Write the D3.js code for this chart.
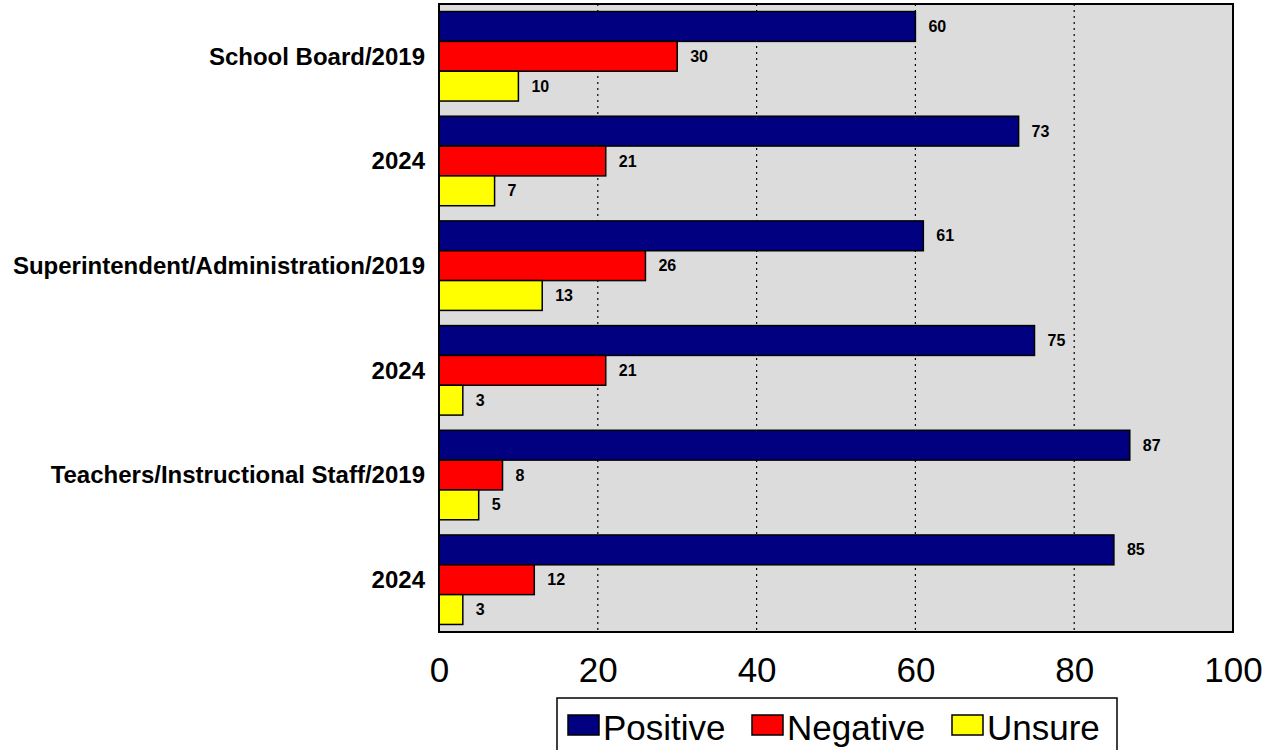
<!DOCTYPE html>
<html><head><meta charset="utf-8">
<script src="https://cdn.jsdelivr.net/npm/d3@7"></script>
<style>body{margin:0;background:#fff;}svg{display:block;}</style>
</head><body>
<svg id="c" width="1268" height="750"></svg>
<script>
const categories = ["School Board/2019","2024","Superintendent/Administration/2019","2024","Teachers/Instructional Staff/2019","2024"];
const seriesNames = ["Positive","Negative","Unsure"];
const positive = [60,73,61,75,87,85];
const negative = [30,21,26,21,8,12];
const unsure = [10,7,13,3,5,3];
const xTicks = [0,20,40,60,80,100];
const colors = ["#000080","#ff0000","#ffff00"];

const svg = d3.select("#c");
const L=439,R=1233,T=4,B=632;
const x = d3.scaleLinear().domain([0,100]).range([L,R]);
const y0 = d3.scaleBand().domain(d3.range(categories.length)).range([T,B]).paddingInner(0.145).paddingOuter(0.072);
const y1 = d3.scaleBand().domain(seriesNames).range([0,y0.bandwidth()]);
const data = categories.map((c,i)=>({c,i,vals:[positive[i],negative[i],unsure[i]]}));

svg.append("rect").attr("x",L).attr("y",T).attr("width",R-L).attr("height",B-T).attr("fill","#dcdcdc");
svg.append("g").selectAll("line").data(xTicks.filter(d=>d>0&&d<100)).join("line")
  .attr("x1",d=>x(d)).attr("x2",d=>x(d)).attr("y1",T).attr("y2",B)
  .attr("stroke","#000").attr("stroke-width",1.2).attr("stroke-dasharray","2,4");

const g = svg.append("g").selectAll("g").data(data).join("g").attr("transform",d=>`translate(0,${y0(d.i)})`);
g.selectAll("rect").data(d=>d.vals.map((v,k)=>({v,k}))).join("rect")
  .attr("x",x(0)).attr("y",d=>y1(seriesNames[d.k])).attr("width",d=>x(d.v)-x(0)).attr("height",y1.bandwidth())
  .attr("fill",d=>colors[d.k]).attr("stroke","#000").attr("stroke-width",1.5);
g.selectAll("text").data(d=>d.vals.map((v,k)=>({v,k}))).join("text")
  .attr("x",d=>x(d.v)+13).attr("y",d=>y1(seriesNames[d.k])+y1.bandwidth()/2).attr("dy","0.35em")
  .attr("font-family","'Liberation Sans Narrow','Arial Narrow','Liberation Sans',Arial,sans-serif").attr("font-weight","bold").attr("font-size",16)
  .text(d=>d.v);

svg.append("g").selectAll("text").data(data).join("text")
  .attr("x",425).attr("y",d=>y0(d.i)+y0.bandwidth()/2).attr("dy","0.35em").attr("text-anchor","end")
  .attr("font-family","'Liberation Sans',Arial,sans-serif").attr("font-weight","bold").attr("font-size",24)
  .text(d=>d.c);

svg.append("rect").attr("x",L).attr("y",T).attr("width",R-L).attr("height",B-T).attr("fill","none").attr("stroke","#000").attr("stroke-width",2);

const ax = svg.append("g").attr("transform",`translate(0,${B})`)
  .call(d3.axisBottom(x).tickValues(xTicks).tickSize(0).tickPadding(25).tickFormat(d3.format("d")));
ax.select(".domain").remove();
ax.selectAll("text").attr("font-family","'Liberation Sans',Arial,sans-serif").attr("font-size",35).attr("fill","#000");

// legend
const lg = svg.append("g");
lg.append("rect").attr("x",557).attr("y",698).attr("width",560).attr("height",60).attr("fill","#fff").attr("stroke","#000").attr("stroke-width",1.5);
const lx=[568,752,952];
seriesNames.forEach((s,k)=>{
  lg.append("rect").attr("x",lx[k]).attr("y",715).attr("width",31).attr("height",20).attr("fill",colors[k]).attr("stroke","#000").attr("stroke-width",1.5);
  lg.append("text").attr("x",lx[k]+35).attr("y",740).attr("font-family","'Liberation Sans',Arial,sans-serif").attr("font-size",35).text(s);
});
</script>
</body></html>
